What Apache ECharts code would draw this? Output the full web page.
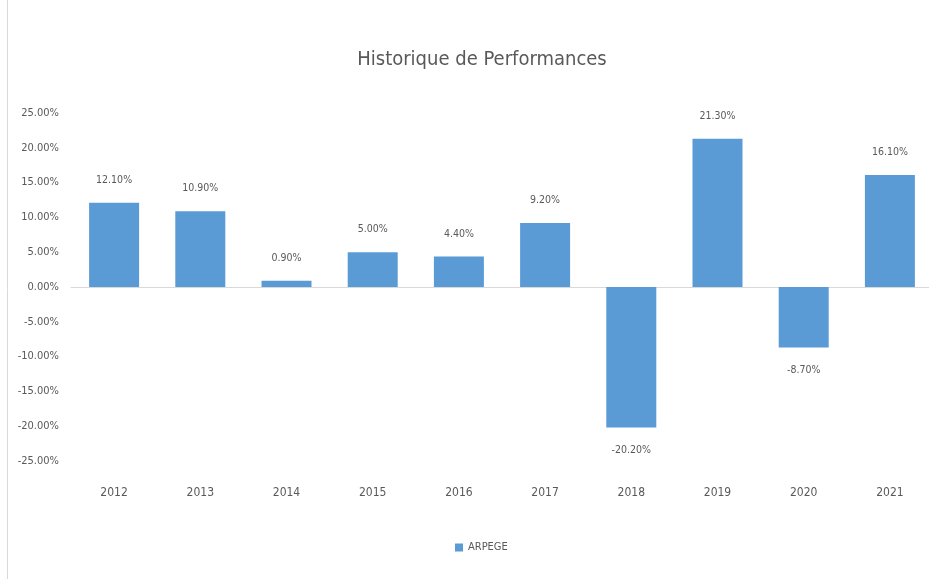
<!DOCTYPE html>
<html>
<head>
<meta charset="utf-8">
<script src="https://cdn.jsdelivr.net/npm/echarts@6/dist/echarts.min.js"></script>
<style>
  html, body { margin: 0; padding: 0; background: #fff; overflow: hidden; }
  /* le graphique d'origine déborde un peu à droite */
  #chart { width: 934px; height: 579px; }
</style>
</head>
<body>
<div id="chart"></div>
<script>
// données
var years = ['2012', '2013', '2014', '2015', '2016', '2017', '2018', '2019', '2020', '2021'];
var perf = [12.1, 10.9, 0.9, 5.0, 4.4, 9.2, -20.2, 21.3, -8.7, 16.1];
var seriesName = 'ARPEGE';

var font = '"DejaVu Sans Condensed", sans-serif';
var grey = '#595959';

var chart = echarts.init(document.getElementById('chart'));
var option = {
  animation: false,
  title: {
    text: 'Historique de Performances',
    left: 477,
    textAlign: 'center',
    top: 45,
    textStyle: { fontFamily: font, fontSize: 20, fontWeight: 'normal', color: grey }
  },
  legend: {
    data: [seriesName],
    left: 450,
    top: 537,
    itemWidth: 8,
    itemHeight: 8,
    itemGap: 4,
    icon: 'rect',
    textStyle: { fontFamily: font, fontSize: 11, color: grey }
  },
  grid: {
    left: 71,
    top: 113,
    width: 862,
    height: 348
  },
  xAxis: {
    type: 'category',
    data: years,
    axisLine: { onZero: true, lineStyle: { color: '#d9d9d9', width: 1 } },
    axisTick: { show: false },
    axisLabel: {
      interval: 0,
      margin: 26,
      fontFamily: font,
      fontSize: 12,
      color: grey
    }
  },
  yAxis: {
    type: 'value',
    min: -25,
    max: 25,
    interval: 5,
    axisLine: { show: false },
    axisTick: { show: false },
    splitLine: { show: false },
    axisLabel: {
      margin: 12,
      fontFamily: font,
      fontSize: 11,
      color: grey,
      formatter: function (v) { return v.toFixed(2) + '%'; }
    }
  },
  series: [{
    name: seriesName,
    type: 'bar',
    // étiquettes sous les barres négatives
    data: perf.map(function (v) {
      return v < 0 ? { value: v, label: { position: 'bottom' } } : v;
    }),
    barWidth: 50,
    itemStyle: { color: '#5b9bd5' },
    label: {
      show: true,
      position: 'top',
      distance: 17,
      fontFamily: font,
      fontSize: 10.5,
      color: grey,
      formatter: function (p) { return p.value.toFixed(2) + '%'; }
    }
  }],
  graphic: [{
    type: 'line',
    shape: { x1: 7.5, y1: 0, x2: 7.5, y2: 579 },
    style: { stroke: '#d9d9d9', lineWidth: 1 }
  }]
};

chart.setOption(option);
</script>
</body>
</html>
